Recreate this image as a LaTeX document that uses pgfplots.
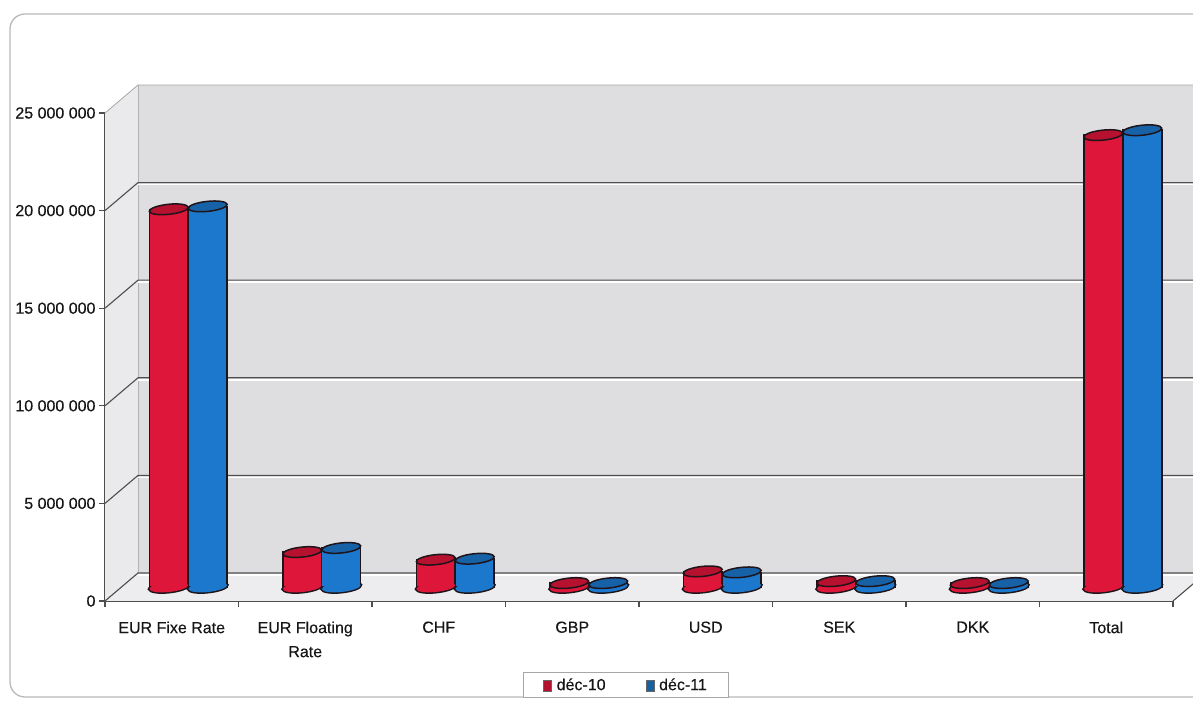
\documentclass[border=0pt]{standalone}
\usepackage{pgfplots}
\usepackage{pgfplotstable}
\pgfplotsset{compat=1.18}
\usepackage{fontspec}
\setmainfont{Liberation Sans}
\newfontfamily\lbl{Liberation Sans}[FakeBold=0.4]

\definecolor{barred}{RGB}{222,22,58}
\definecolor{barblue}{RGB}{28,120,204}
\definecolor{wallgray}{RGB}{222,222,224}
\definecolor{sidegray}{RGB}{234,234,236}
\definecolor{floorgray}{RGB}{237,237,239}
\definecolor{gridgray}{RGB}{78,78,78}
\definecolor{txt}{RGB}{22,22,22}
\definecolor{edge}{RGB}{30,20,25}

% elliptic cap of a cylinder, slightly tilted by the oblique view
\pgfdeclareplotmark{cylcap}{%
  \pgfpathellipse{\pgfpointorigin}{\pgfpointpolar{6}{19.5pt}}{\pgfpointpolar{96}{5pt}}%
  \pgfusepathqfillstroke}
\pgfdeclareplotmark{cylfill}{%
  \pgfpathellipse{\pgfpointorigin}{\pgfpointpolar{6}{19.5pt}}{\pgfpointpolar{96}{5pt}}%
  \pgfusepathqfill}

% x: category index shifted to the left/right half of the pair, b: floor level
\pgfplotstableread{
x       y         b
-0.146  19350000  0
0.854   1790000   0
1.854   1400000   0
2.854   200000    0
3.854   800000    0
4.854   300000    0
5.854   200000    0
6.854   23150000  0
}\decten

\pgfplotstableread{
x       y         b
0.146   19500000  0
1.146   2000000   0
2.146   1450000   0
3.146   200000    0
4.146   750000    0
5.146   300000    0
6.146   200000    0
7.146   23400000  0
}\decelf

\tikzset{wall/.style={shift={(33pt,28pt)}}}

% the plane half way into the depth, where the cylinders stand
\pgfplotsset{midplane/.style={
  at={(121.5pt,114pt)}, anchor=south west, scale only axis,
  width=1068pt, height=488pt,
  xmin=-0.5, xmax=7.5, ymin=0, ymax=25000000,
  hide axis, clip=false}}

\begin{document}
\begin{tikzpicture}[x=1pt,y=1pt]
\useasboundingbox (0,0) rectangle (1193,701);
\begin{scope}
\clip (0,0) rectangle (1193,701);
\draw[gray!55, line width=1.3pt, rounded corners=15pt] (10,4) rectangle (1250,687);

% front plane: walls, floor, grid, ticks and labels
\begin{axis}[
  at={(105pt,100pt)}, anchor=south west, scale only axis,
  width=1068pt, height=488pt,
  xmin=-0.5, xmax=7.5, ymin=0, ymax=25000000,
  clip=false,
  axis x line*=bottom, axis y line*=left,
  axis line style={gridgray, line width=1.1pt},
  every inner x axis line/.append style={-}, every inner y axis line/.append style={-},
  tick align=outside, major tick length=6pt,
  tick style={gridgray, line width=1.1pt},
  xtick={-0.5,0.5,1.5,2.5,3.5,4.5,5.5,6.5,7.5},
  xticklabels={EUR Fixe Rate,{EUR Floating\\Rate},CHF,GBP,USD,SEK,DKK,Total,{}},
  xticklabel style={xshift=66.75pt, anchor=north, align=center, text=txt,
    font=\lbl\fontsize{16}{24}\selectfont, yshift=-11pt},
  ytick={0,5000000,10000000,15000000,20000000,25000000},
  yticklabels={0,5 000 000,10 000 000,15 000 000,20 000 000,25 000 000},
  scaled y ticks=false,
  yticklabel style={text=txt, font=\lbl\fontsize{16}{19}\selectfont, xshift=0pt},
]
% back wall, side wall and floor
\fill[wallgray] ([wall]-0.5,0) rectangle ([wall]7.5,25000000);
\fill[sidegray] (-0.5,0) -- ([wall]-0.5,0) -- ([wall]-0.5,25000000) -- (-0.5,25000000) -- cycle;
\fill[floorgray] (-0.5,0) -- (7.5,0) -- ([wall]7.5,0) -- ([wall]-0.5,0) -- cycle;
\draw[gray!60, line width=0.8pt] ([wall]-0.5,0) -- ([wall]-0.5,25000000);
\draw[gray!70, line width=0.8pt] (-0.5,25000000) -- ([wall]-0.5,25000000) -- ([wall]7.5,25000000);
\draw[gridgray, line width=1.1pt] (7.5,0) -- ([wall]7.5,0);
% grid lines on the walls
\draw[white, line width=1.6pt] ([wall,yshift=-2pt]-0.5,0) -- ([wall,yshift=-2pt]7.5,0);
\draw[white, line width=1.6pt] ([wall,yshift=-2pt]-0.5,5000000) -- ([wall,yshift=-2pt]7.5,5000000);
\draw[white, line width=1.6pt] ([wall,yshift=-2pt]-0.5,10000000) -- ([wall,yshift=-2pt]7.5,10000000);
\draw[white, line width=1.6pt] ([wall,yshift=-2pt]-0.5,15000000) -- ([wall,yshift=-2pt]7.5,15000000);
\draw[white, line width=1.6pt] ([wall,yshift=-2pt]-0.5,20000000) -- ([wall,yshift=-2pt]7.5,20000000);
\draw[gridgray, line width=1.1pt] (-0.5,0) -- ([wall]-0.5,0) -- ([wall]7.5,0);
\draw[gridgray, line width=1.1pt] (-0.5,5000000) -- ([wall]-0.5,5000000) -- ([wall]7.5,5000000);
\draw[gridgray, line width=1.1pt] (-0.5,10000000) -- ([wall]-0.5,10000000) -- ([wall]7.5,10000000);
\draw[gridgray, line width=1.1pt] (-0.5,15000000) -- ([wall]-0.5,15000000) -- ([wall]7.5,15000000);
\draw[gridgray, line width=1.1pt] (-0.5,20000000) -- ([wall]-0.5,20000000) -- ([wall]7.5,20000000);
\end{axis}

% outlines of the rounded cylinder bottoms
\begin{axis}[midplane]
\addplot[only marks, mark=cylcap, mark options={fill=barred, draw=edge, line width=3pt}]
  table[x=x, y=b] {\decten};
\addplot[only marks, mark=cylcap, mark options={fill=barblue, draw=edge, line width=3pt}]
  table[x=x, y=b] {\decelf};
\end{axis}

% cylinder bodies
\begin{axis}[midplane,
  legend columns=2,
  legend style={at={(0.4724,-0.2008)}, anchor=center, draw=gray!70, line width=0.8pt,
    font=\lbl\fontsize{16}{19}\selectfont, text=txt,
    inner xsep=20pt, inner ysep=4pt,
    /tikz/every odd column/.append style={column sep=3pt},
    /tikz/every even column/.append style={column sep=38pt}},
  legend cell align=left,
]
% déc-10
\addplot[ybar, bar width=39pt, bar shift=0pt, draw=edge, line width=1.5pt, fill=barred,
  legend image code/.code={\path[fill=barred!80!black, draw=black!60, line width=0.5pt] (0pt,-6pt) rectangle (8pt,5pt);}]
  table[x=x, y=y] {\decten};
\addlegendentry{déc-10}
% déc-11
\addplot[ybar, bar width=39pt, bar shift=0pt, draw=edge, line width=1.5pt, fill=barblue,
  legend image code/.code={\path[fill=barblue!80!black, draw=black!60, line width=0.5pt] (0pt,-6pt) rectangle (8pt,5pt);}]
  table[x=x, y=y] {\decelf};
\addlegendentry{déc-11}
\end{axis}

% filled bottoms over the body edge, then the tops
\begin{axis}[midplane]
\addplot[only marks, mark=cylfill, mark options={fill=barred}]
  table[x=x, y=b] {\decten};
\addplot[only marks, mark=cylfill, mark options={fill=barblue}]
  table[x=x, y=b] {\decelf};
\addplot[only marks, mark=cylcap, mark options={fill=barred!82!black, draw=edge, line width=1.5pt}]
  table[x=x, y=y] {\decten};
\addplot[only marks, mark=cylcap, mark options={fill=barblue!82!black, draw=edge, line width=1.5pt}]
  table[x=x, y=y] {\decelf};
\end{axis}
\end{scope}
\end{tikzpicture}
\end{document}
